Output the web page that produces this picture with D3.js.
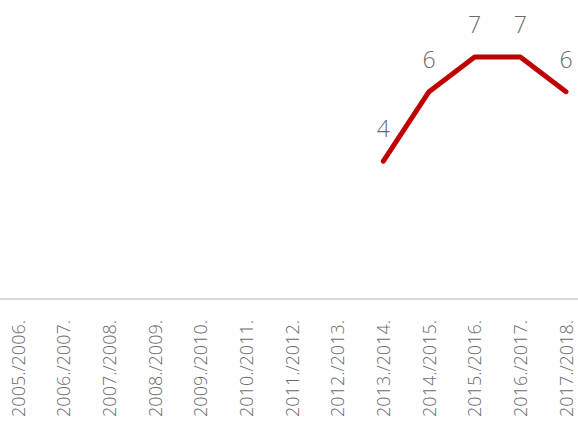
<!DOCTYPE html>
<html><head><meta charset="utf-8">
<script src="https://cdn.jsdelivr.net/npm/d3@7"></script>
<style>body{margin:0;background:#fff}svg{display:block}</style>
</head><body>
<svg id="c" width="578" height="422"></svg>
<script>
const categories = ["2005./2006.","2006./2007.","2007./2008.","2008./2009.","2009./2010.","2010./2011.","2011./2012.","2012./2013.","2013./2014.","2014./2015.","2015./2016.","2016./2017.","2017./2018."];
const values = [null,null,null,null,null,null,null,null,4,6,7,7,6];

const svg = d3.select("#c");
const W = 578;
const x = d3.scalePoint().domain(categories).range([18, 566]);
const y = d3.scaleLinear().domain([0, 7]).range([300, 57]);

// axis line
svg.append("line").attr("x1", 0).attr("x2", W).attr("y1", 299).attr("y2", 299)
  .attr("stroke", "#d9d9d9").attr("stroke-width", 2);

// axis labels
const ax = d3.axisBottom(x).tickSize(0).tickPadding(0);
const g = svg.append("g").call(ax).attr("font-size", null).attr("font-family", null);
g.select(".domain").remove();
g.selectAll(".tick text")
  .attr("transform", "translate(0,320) rotate(-90)")
  .attr("x", 0).attr("y", 0).attr("dy", "0.35em")
  .attr("text-anchor", "end")
  .style("font-family", "'Open Sans', sans-serif")
  .style("font-weight", 300)
  .style("font-size", "18px")
  .attr("fill", "#6a6a6a");

const pts = categories.map((c, i) => ({c, v: values[i]})).filter(d => d.v != null);

const line = d3.line().x(d => x(d.c)).y(d => y(d.v));
svg.append("path").datum(pts).attr("d", line)
  .attr("fill", "none").attr("stroke", "#c00000").attr("stroke-width", 5)
  .attr("stroke-linecap", "round").attr("stroke-linejoin", "round");

svg.selectAll(".lbl").data(pts).enter().append("text")
  .attr("x", d => x(d.c)).attr("y", d => y(d.v) - 24)
  .attr("text-anchor", "middle")
  .style("font-family", "'Open Sans', sans-serif")
  .style("font-weight", 300)
  .style("font-size", "23px")
  .attr("fill", "#6a6a6a")
  .text(d => d.v);
</script>
</body></html>
